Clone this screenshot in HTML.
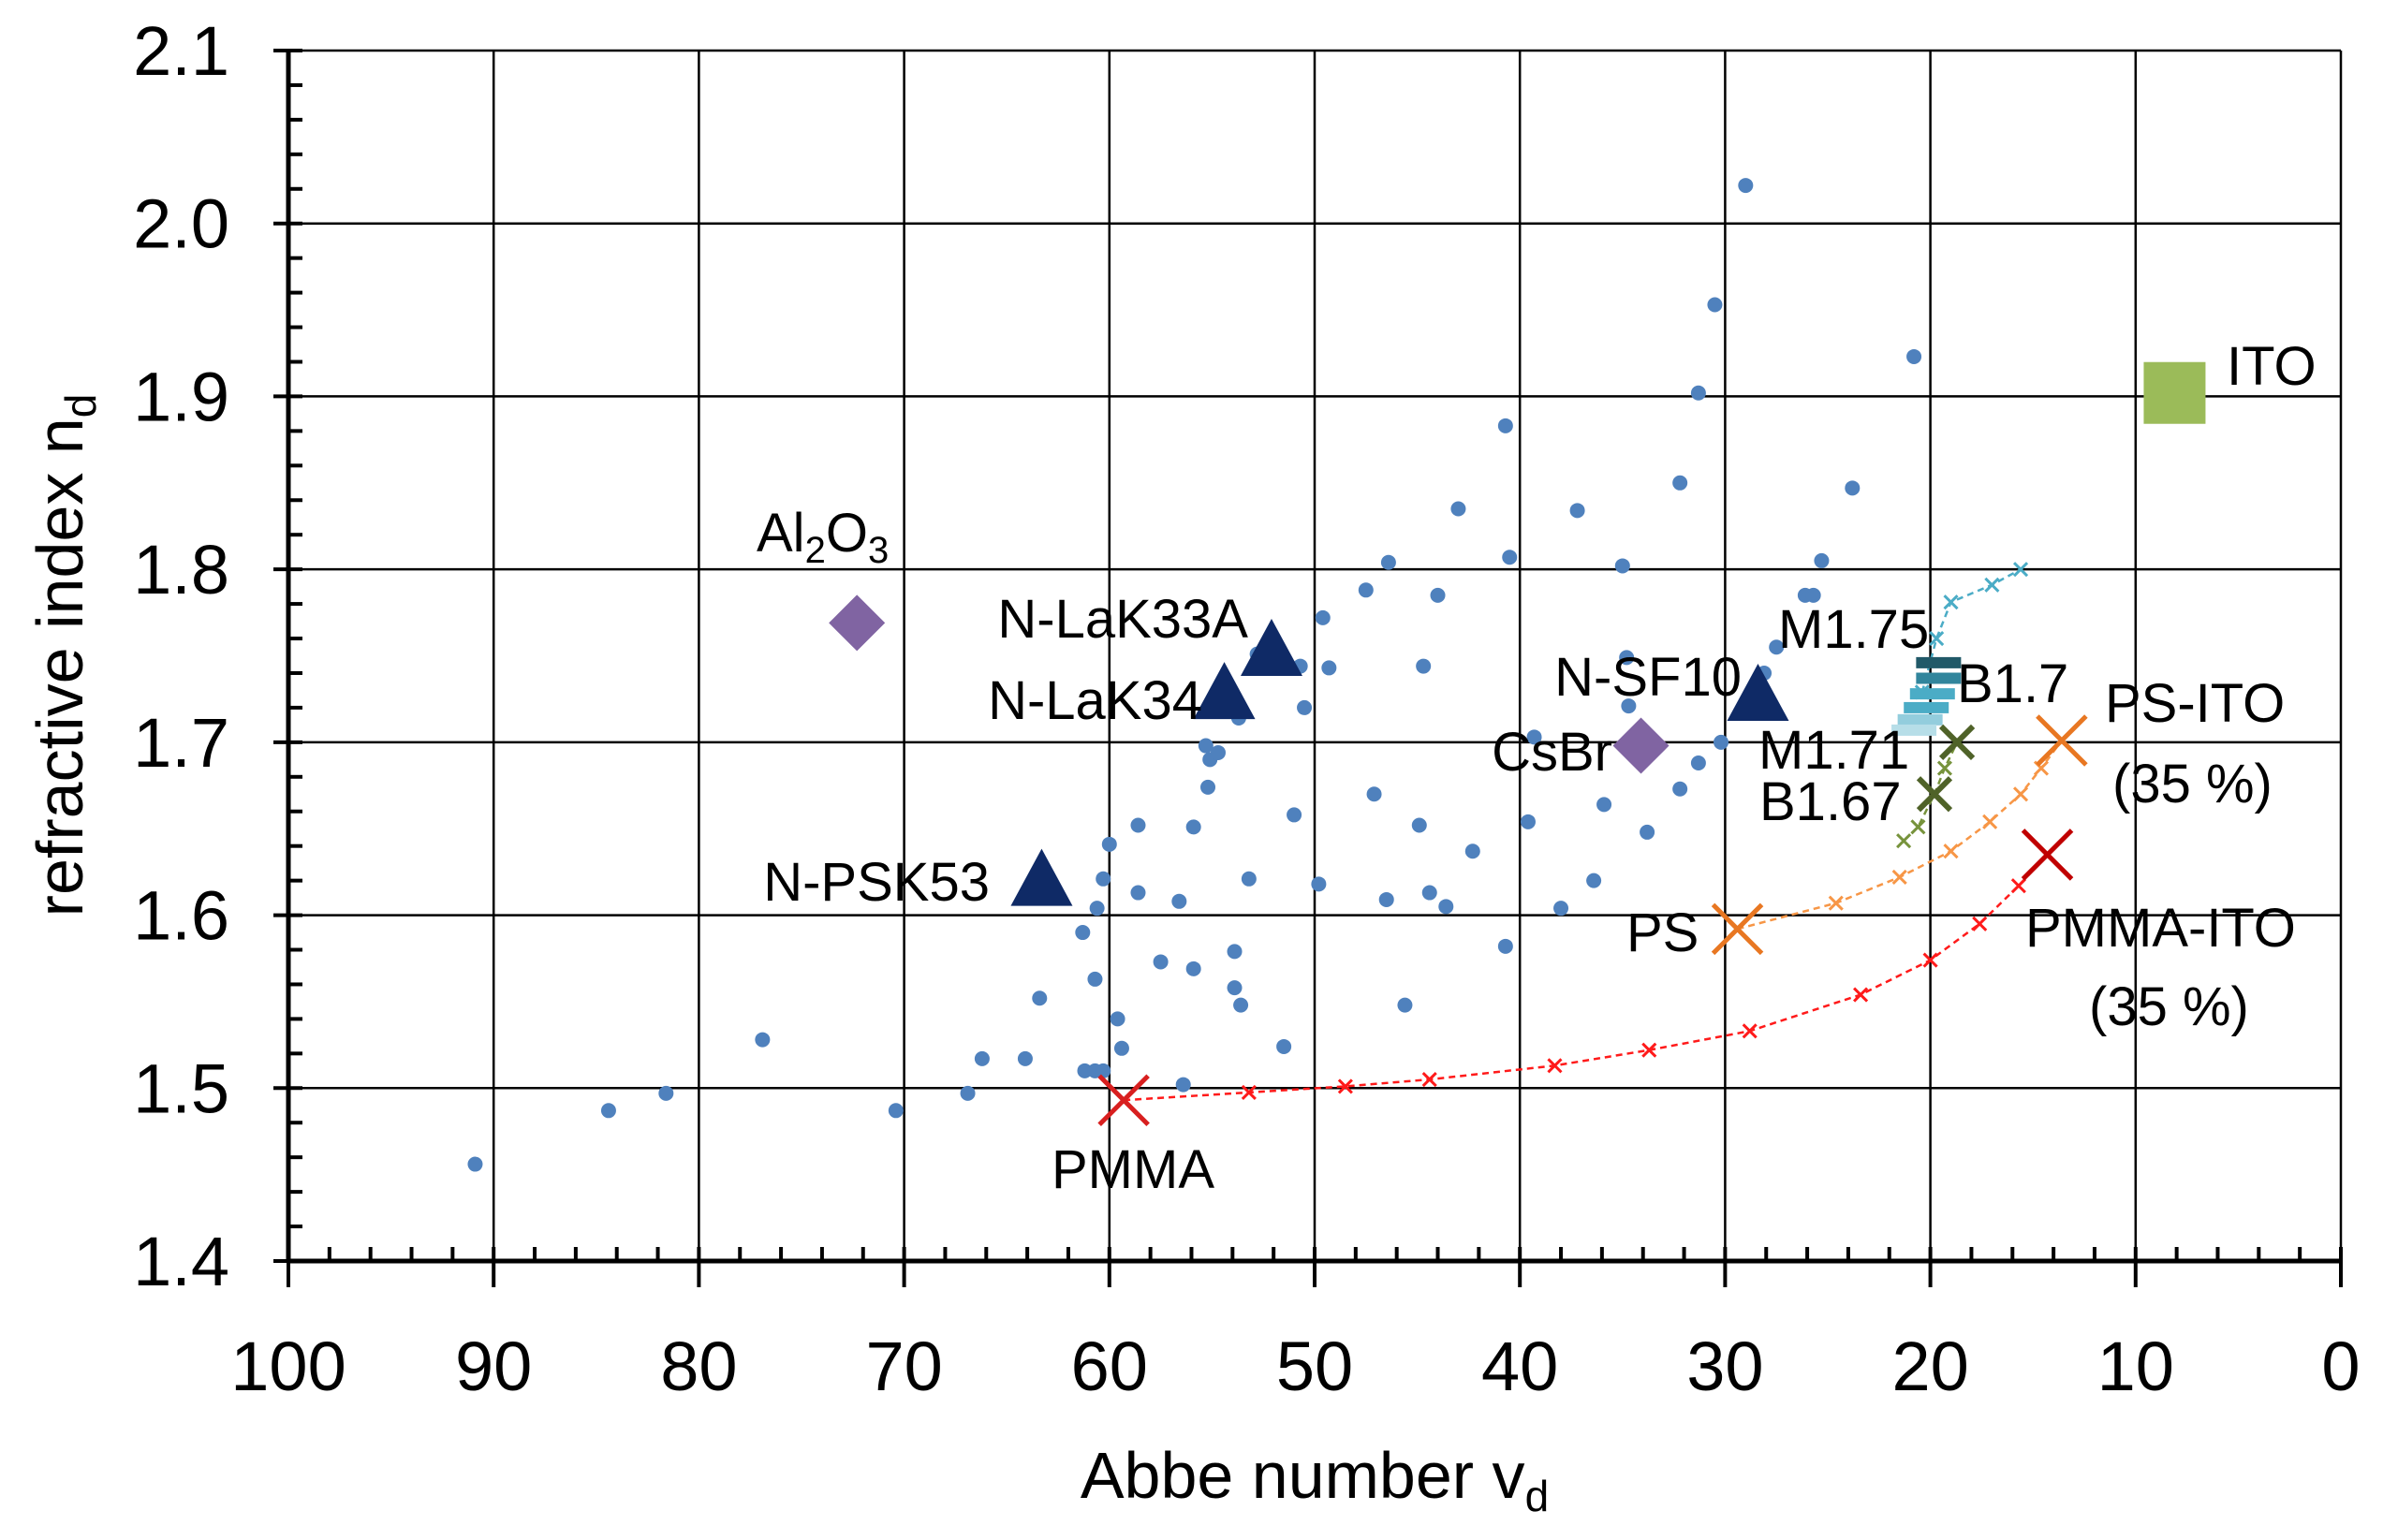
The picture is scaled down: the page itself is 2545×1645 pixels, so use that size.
<!DOCTYPE html>
<html><head><meta charset="utf-8"><style>
html,body{margin:0;padding:0;background:#fff;}
svg{display:block;font-family:"Liberation Sans",sans-serif;}
</style></head><body>
<svg id="chart" width="2545" height="1645" viewBox="0 0 2545 1645" xmlns="http://www.w3.org/2000/svg">
<g id="grid"></g>
<g id="series"></g>
<g id="axes"></g>
<g id="labels"></g>
<text x="1404" y="1600" font-size="70" text-anchor="middle">Abbe number v<tspan font-size="46" dy="14">d</tspan></text>
<text transform="translate(88,700) rotate(-90)" font-size="70" text-anchor="middle">refractive index n<tspan font-size="46" dy="14">d</tspan></text>
</svg>
<script>
const xTicks=[100,90,80,70,60,50,40,30,20,10,0];
const yTicks=[1.4,1.5,1.6,1.7,1.8,1.9,2.0,2.1];
const glassAbbe=[90.9,84.4,81.6,76.9,70.4,66.9,66.2,64.1,63.4,61.2,60.7,61.3,60.7,60.6,60.3,60.0,60.3,59.6,59.4,58.6,58.6,57.5,56.6,56.4,55.9,55.9,55.2,55.1,55.3,54.7,53.9,53.9,53.7,53.6,53.2,52.8,51.5,51.0,50.7,50.5,49.8,49.6,49.3,47.5,47.1,46.5,46.4,45.6,44.9,44.7,44.4,44.0,43.6,43.0,42.3,40.7,40.7,40.5,39.6,39.3,38.0,37.2,36.4,35.9,35.0,34.7,33.8,32.2,32.2,31.3,31.3,30.5,30.2,29.0,28.1,27.5,26.1,25.7,25.3,23.8,20.8,34.8];
const glassIndex=[1.456,1.487,1.497,1.528,1.487,1.497,1.517,1.517,1.552,1.510,1.510,1.590,1.563,1.604,1.621,1.641,1.510,1.540,1.523,1.613,1.652,1.573,1.608,1.502,1.651,1.569,1.674,1.690,1.698,1.694,1.558,1.579,1.714,1.548,1.621,1.751,1.524,1.658,1.744,1.720,1.618,1.772,1.743,1.788,1.670,1.609,1.804,1.548,1.652,1.744,1.613,1.785,1.605,1.835,1.637,1.582,1.883,1.807,1.654,1.703,1.604,1.834,1.620,1.664,1.802,1.721,1.648,1.850,1.673,1.902,1.688,1.953,1.700,2.022,1.740,1.755,1.785,1.785,1.805,1.847,1.923,1.749];
const pmmaCurveAbbe=[59.3,53.2,48.5,44.4,38.3,33.7,28.8,23.4,20.0,17.6,15.7,14.3];
const pmmaCurveIndex=[1.493,1.4975,1.501,1.505,1.513,1.522,1.533,1.554,1.574,1.595,1.617,1.635];
const psCurveAbbe=[29.4,24.6,21.5,19.0,17.1,15.6,14.6,13.6];
const psCurveIndex=[1.592,1.607,1.622,1.637,1.654,1.670,1.685,1.701];
const greenCurveAbbe=[21.3,20.6,19.8,19.3,18.7];
const greenCurveIndex=[1.643,1.651,1.670,1.685,1.700];
const cyanCurveAbbe=[20.4,19.7,19.0,17.0,15.6];
const cyanCurveIndex=[1.729,1.760,1.781,1.791,1.800];
const triNames=["N-LaK33A","N-LaK34","N-PSK53","N-SF10"];
const triAbbe=[52.1,54.4,63.3,28.4];
const triIndex=[1.753,1.728,1.620,1.727];
const diaNames=["Al2O3","CsBr"];
const diaAbbe=[72.3,34.1];
const diaIndex=[1.769,1.698];
const itoAbbe=[8.1];const itoIndex=[1.902];
const bigXNames=["PMMA","PS","PS-ITO","PMMA-ITO"];
const bigXAbbe=[59.3,29.4,13.6,14.3];
const bigXIndex=[1.493,1.592,1.701,1.635];
const bigXColors=["#d81f1f","#e87722","#e87722","#c00000"];
const midXNames=["M1.71","B1.67"];
const midXAbbe=[18.7,19.8];
const midXIndex=[1.700,1.670];
const dashAbbe=[19.6,19.6,19.9,20.2,20.5,20.8];
const dashIndex=[1.746,1.737,1.728,1.720,1.713,1.707];
const dashColors=["#215968","#31859c","#4bacc6","#4bacc6","#93cddd","#b7dee8"];

const L=308,R=2500,T=54,B=1347;
const xs=v=>L+(100-v)/100*(R-L);
const ys=v=>T+(2.1-v)/0.7*(B-T);
const NS="http://www.w3.org/2000/svg";
function mk(tag,parent,attrs){const e=document.createElementNS(NS,tag);for(const k in attrs)e.setAttribute(k,attrs[k]);parent.appendChild(e);return e;}
const grid=document.getElementById('grid'),ser=document.getElementById('series'),ax=document.getElementById('axes'),lab=document.getElementById('labels');

xTicks.forEach(v=>{const g=mk('line',grid,{x1:xs(v),x2:xs(v),y1:T,y2:B,stroke:'#000','stroke-width':2.5});


const t=mk('text',ax,{x:xs(v),y:1485,'font-size':74,'text-anchor':'middle'});t.textContent=v;

});
yTicks.forEach(v=>{const g=mk('line',grid,{x1:L,x2:R,y1:ys(v),y2:ys(v),stroke:'#000','stroke-width':2.5});


const t=mk('text',ax,{x:245,y:ys(v)+26,'font-size':74,'text-anchor':'end'});t.textContent=v.toFixed(1);

});
// minor ticks
for(let i=0;i<=50;i++){const v=i*2;const maj=v%10===0;mk('line',ax,{x1:xs(v),x2:xs(v),y1:B-15,y2:maj?B+28:B,stroke:'#000','stroke-width':4});}
for(let i=0;i<=35;i++){const v=1.4+i*0.02;const maj=i%5===0;mk('line',ax,{x1:maj?L-16:L,x2:L+15,y1:ys(v),y2:ys(v),stroke:'#000','stroke-width':4});}
const xa=mk('line',ax,{x1:L,x2:R,y1:B,y2:B,stroke:'#000','stroke-width':5});


const ya=mk('line',ax,{x1:L,x2:L,y1:T,y2:B,stroke:'#000','stroke-width':5});



glassAbbe.forEach((a,i)=>{const c=mk('circle',ser,{cx:xs(a),cy:ys(glassIndex[i]),r:8,fill:'#4f81bd'});

});

function curve(A,N,col,name,sz){const d=A.map((a,i)=>(i?'L':'M')+xs(a)+','+ys(N[i])).join(' ');
const p=mk('path',ser,{d:d,fill:'none',stroke:col,'stroke-width':2.5,'stroke-dasharray':'7 5'});


A.forEach((a,i)=>{const x=xs(a),y=ys(N[i]);const g=mk('path',ser,{d:`M${x-sz},${y-sz}L${x+sz},${y+sz}M${x-sz},${y+sz}L${x+sz},${y-sz}`,stroke:col,'stroke-width':3});

});}
curve(pmmaCurveAbbe,pmmaCurveIndex,'#ff1a1a','pmma-ito-curve',7);
curve(psCurveAbbe,psCurveIndex,'#f79646','ps-ito-curve',7);
curve(greenCurveAbbe,greenCurveIndex,'#77933c','b-curve',7);
curve(cyanCurveAbbe,cyanCurveIndex,'#4bacc6','m-curve',7);

dashAbbe.forEach((a,i)=>{const x=xs(a),y=ys(dashIndex[i]);const r=mk('rect',ser,{x:x-24,y:y-6,width:48,height:12,fill:dashColors[i]});

});

triAbbe.forEach((a,i)=>{const x=xs(a),y=ys(triIndex[i]);const p=mk('polygon',ser,{points:`${x},${y-34} ${x+33},${y+27} ${x-33},${y+27}`,fill:'#0f2a66'});

});
diaAbbe.forEach((a,i)=>{const x=xs(a),y=ys(diaIndex[i]);const p=mk('polygon',ser,{points:`${x},${y-30} ${x+30},${y} ${x},${y+30} ${x-30},${y}`,fill:'#8064a2'});

});
itoAbbe.forEach((a,i)=>{const x=xs(a),y=ys(itoIndex[i]);const r=mk('rect',ser,{x:x-33,y:y-33,width:66,height:66,fill:'#9bbb59'});

});
bigXAbbe.forEach((a,i)=>{const x=xs(a),y=ys(bigXIndex[i]),s=26;const p=mk('path',ser,{d:`M${x-s},${y-s}L${x+s},${y+s}M${x-s},${y+s}L${x+s},${y-s}`,stroke:bigXColors[i],'stroke-width':5});

});
midXAbbe.forEach((a,i)=>{const x=xs(a),y=ys(midXIndex[i]),s=17;const p=mk('path',ser,{d:`M${x-s},${y-s}L${x+s},${y+s}M${x-s},${y+s}L${x+s},${y-s}`,stroke:'#4f6228','stroke-width':6});

});

const labelsTxt=[["ITO",2378,390,'start'],["N-LaK33A",1333,660,'end'],["N-LaK34",1284,747,'end'],["N-PSK53",1057,941,'end'],["N-SF10",1860,722,'end'],["CsBr",1722,802,'end'],["M1.75",1899,671,'start'],["B1.7",2090,729,'start'],["M1.71",1878,800,'start'],["B1.67",1879,855,'start'],["PS-ITO",2248,750,'start'],["(35 %)",2256,836,'start'],["PMMA-ITO",2163,990,'start'],["(35 %)",2231,1074,'start'],["PS",1737,995,'start'],["PMMA",1123,1248,'start']];
labelsTxt.forEach(l=>{const t=mk('text',lab,{x:l[1],y:l[2]+21,'font-size':58,'text-anchor':l[3]});t.textContent=l[0];

});
const al=mk('text',lab,{x:808,y:589,'font-size':58});


al.innerHTML='Al<tspan font-size="40" dy="12">2</tspan><tspan dy="-12">O</tspan><tspan font-size="40" dy="12">3</tspan>';
</script>
</body></html>
